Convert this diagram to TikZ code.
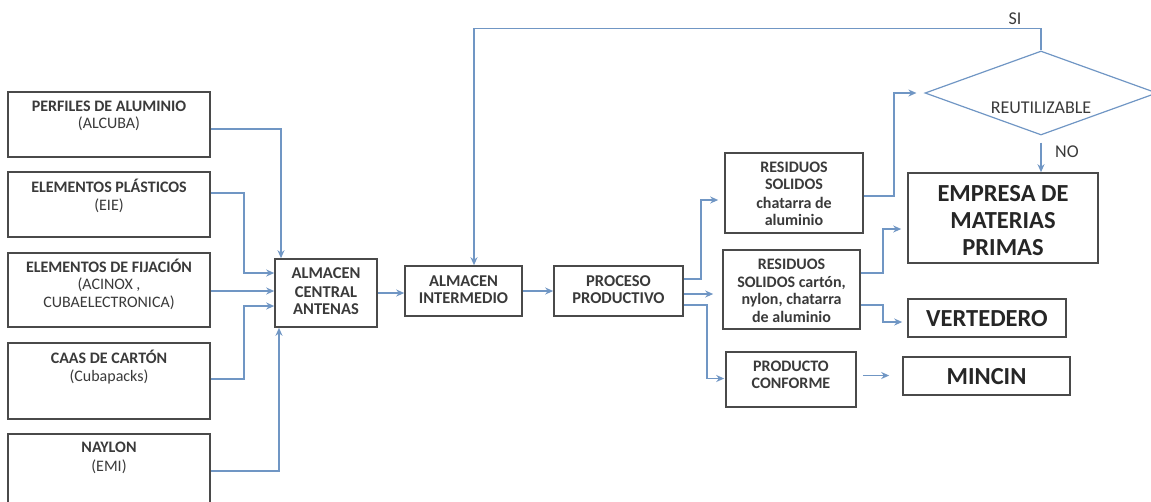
\documentclass[tikz,border=0pt]{standalone}
\usepackage{fontspec}
\setmainfont{Carlito}
\usetikzlibrary{arrows.meta,shapes.geometric}
\definecolor{connc}{HTML}{7096C4}
\definecolor{boxc}{HTML}{4A4A4A}
\definecolor{txt}{HTML}{3A3A3A}
\begin{document}
\begin{tikzpicture}[x=1pt,y=-1pt,
  box/.style={draw=boxc, line width=1.6pt, inner sep=0pt, fill=white},
  st/.style={font=\fontsize{16}{18}\selectfont\bfseries, text=txt, anchor=base, inner sep=0pt},
  sm/.style={font=\fontsize{16.5}{18}\selectfont\bfseries, text=txt, anchor=base, inner sep=0pt},
  sr/.style={font=\fontsize{16}{18}\selectfont, text=txt, anchor=base, inner sep=0pt},
  big/.style={font=\fontsize{24.5}{28}\selectfont\bfseries, text=black!85, anchor=base, inner sep=0pt},
  lbl/.style={font=\fontsize{18}{20}\selectfont, text=txt, anchor=base, inner sep=0pt},
  arr/.style={draw=connc, line width=1.4pt, -{Stealth[length=8pt,width=7pt]}},
  lin/.style={draw=connc, line width=1.4pt}
]
\useasboundingbox (0,0) rectangle (1151,501);
% left boxes
\node[box, minimum width=202, minimum height=65] (b1) at (109,124.5) {};
\node[box, minimum width=202, minimum height=65] (b2) at (109,204.5) {};
\node[box, minimum width=202, minimum height=74] (b3) at (109,290) {};
\node[box, minimum width=202, minimum height=76] (b4) at (109,381) {};
\node[box, minimum width=202, minimum height=80] (b5) at (109,474) {};
\node[st] (t1a) at (109,111.5) {PERFILES DE ALUMINIO};
\node[sr] (t1b) at (109,128.5) {(ALCUBA)};
\node[st] (t2a) at (109,192.5) {ELEMENTOS PLÁSTICOS};
\node[sr] (t2b) at (109,210.5) {(EIE)};
\node[st] (t3a) at (109,272.5) {ELEMENTOS DE FIJACIÓN};
\node[sr] (t3b) at (109,289.5) {(ACINOX ,};
\node[sr] (t3c) at (109,307.5) {CUBAELECTRONICA)};
\node[st] (t4a) at (109,363.5) {CAAS DE CARTÓN};
\node[sr] (t4b) at (109,381.5) {(Cubapacks)};
\node[st] (t5a) at (109,452.5) {NAYLON};
\node[sr] (t5b) at (109,471.5) {(EMI)};
% middle boxes
\node[box, minimum width=102, minimum height=68] (ac) at (326,293) {};
\node[sm] (tac1) at (326,278.5) {ALMACEN};
\node[sm] (tac2) at (326,297.5) {CENTRAL};
\node[sm] (tac3) at (326,314.5) {ANTENAS};
\node[box, minimum width=117, minimum height=50] (im) at (463.5,291) {};
\node[sm] (tim1) at (463.5,286.5) {ALMACEN};
\node[sm] (tim2) at (463.5,303.5) {INTERMEDIO};
\node[box, minimum width=129, minimum height=50] (pp) at (618.5,291) {};
\node[sm] (tpp1) at (618.5,286.5) {PROCESO};
\node[sm] (tpp2) at (618.5,303.5) {PRODUCTIVO};
% right boxes
\node[box, minimum width=138, minimum height=80] (r1) at (794,193) {};
\node[st] (tr1a) at (794,172.5) {RESIDUOS};
\node[st] (tr1b) at (794,189.5) {SOLIDOS};
\node[st] (tr1c) at (794,208.5) {chatarra de};
\node[st] (tr1d) at (794,225.5) {aluminio};
\node[box, minimum width=137, minimum height=79] (r2) at (791.5,289.5) {};
\node[st] (tr2a) at (791.5,269.5) {RESIDUOS};
\node[st] (tr2b) at (791.5,287.5) {SOLIDOS cartón,};
\node[st] (tr2c) at (791.5,304.5) {nylon, chatarra};
\node[st] (tr2d) at (791.5,322.5) {de aluminio};
\node[box, minimum width=130, minimum height=55] (pc) at (791,379.5) {};
\node[st] (tpc1) at (791,371.5) {PRODUCTO};
\node[st] (tpc2) at (791,388.5) {CONFORME};
\node[box, minimum width=190, minimum height=90] (em) at (1003,218) {};
\node[big] (tem1) at (1003,201) {EMPRESA DE};
\node[big] (tem2) at (1003,228) {MATERIAS};
\node[big] (tem3) at (1003,255) {PRIMAS};
\node[box, minimum width=158, minimum height=38] (vt) at (987,318) {};
\node[big] (tvt) at (987,326) {VERTEDERO};
\node[box, minimum width=167, minimum height=38] (mc) at (986.5,376) {};
\node[big] (tmc) at (986.5,384) {MINCIN};
\node[diamond, draw=connc, line width=1.2pt, minimum width=232, minimum height=84, inner sep=0pt] (dm) at (1041,93) {};
\node[lbl] (tdm) at (1041,113) {REUTILIZABLE};
\node[lbl] (tsi) at (1015,24) {SI};
\node[lbl] (tno) at (1067,157) {NO};
% connectors
\draw[arr] ([yshift=-4.5pt]b1.east) -| ([xshift=-45pt]ac.north);
\draw[arr] ([yshift=11.5pt]b2.east) -- ++(33,0) |- ([yshift=20pt]ac.west);
\draw[arr] ([yshift=-1pt]b3.east) -- ([yshift=-1pt]b3.east -| ac.west);
\draw[arr] ([yshift=2pt]b4.east) -- ++(33,0) |- ([yshift=-13pt]ac.west);
\draw[arr] ([yshift=3pt]b5.east) -| ([xshift=-47pt]ac.south);
\draw[arr] (ac.east) -- (ac.east -| im.west);
\draw[arr] (im.east) -- (pp.west);
\draw[arr, shorten >=6pt] ([yshift=12pt]pp.east) -- ++(17,0) |- ([yshift=-7pt]r1.west);
\draw[arr, shorten >=9pt] ([yshift=-3pt]pp.east) -- ([yshift=-3pt]pp.east -| r2.west);
\draw[arr, shorten >=1pt] ([yshift=-14pt]pp.east) -- ++(23,0) |- ([yshift=1pt]pc.west);
\draw[arr, shorten <=6pt, shorten >=13pt] ([yshift=4pt]pc.east) -- ([yshift=4pt]pc.east -| mc.west);
\draw[arr, shorten >=6pt] ([yshift=16.5pt]r2.east) -- ++(22,0) |- ([yshift=-11pt]em.west);
\draw[arr, shorten >=5pt] ([yshift=-15.5pt]r2.east) -- ++(22,0) |- ([yshift=-4pt]vt.west);
\draw[arr, shorten >=8pt] ([yshift=-3pt]r1.east) -- ++(30,0) |- (dm.west);
\draw[arr] (dm.north) -- ++(0,-22) -| ([xshift=10.5pt]im.north);
\draw[arr, shorten <=7pt] (dm.south) -- (dm.south |- em.north);
\end{tikzpicture}
\end{document}
